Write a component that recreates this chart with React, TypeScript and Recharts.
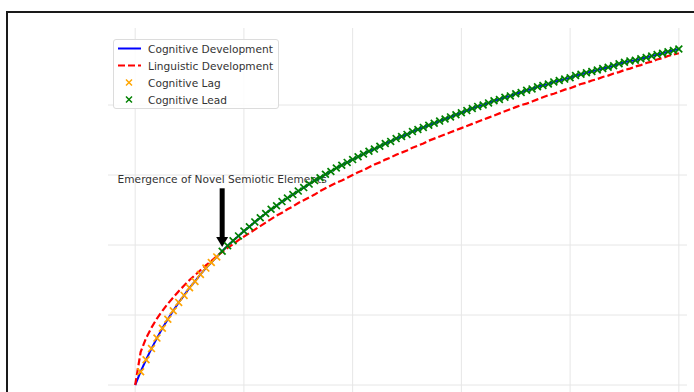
import React from 'react'
import {
  ComposedChart,
  Line,
  XAxis,
  YAxis,
  CartesianGrid,
  ReferenceDot,
  ReferenceLine,
} from 'recharts'

// x grid of the simulation (0 .. 10)
const X_VALUES = [
  0, 0.1, 0.2, 0.3, 0.4, 0.5, 0.6, 0.7, 0.8, 0.9,
  1, 1.1, 1.2, 1.3, 1.4, 1.5, 1.6, 1.7, 1.8, 1.9,
  2, 2.1, 2.2, 2.3, 2.4, 2.5, 2.6, 2.7, 2.8, 2.9,
  3, 3.1, 3.2, 3.3, 3.4, 3.5, 3.6, 3.7, 3.8, 3.9,
  4, 4.1, 4.2, 4.3, 4.4, 4.5, 4.6, 4.7, 4.8, 4.9,
  5, 5.1, 5.2, 5.3, 5.4, 5.5, 5.6, 5.7, 5.8, 5.9,
  6, 6.1, 6.2, 6.3, 6.4, 6.5, 6.6, 6.7, 6.8, 6.9,
  7, 7.1, 7.2, 7.3, 7.4, 7.5, 7.6, 7.7, 7.8, 7.9,
  8, 8.1, 8.2, 8.3, 8.4, 8.5, 8.6, 8.7, 8.8, 8.9,
  9, 9.1, 9.2, 9.3, 9.4, 9.5, 9.6, 9.7, 9.8, 9.9,
  10,
]

const COGNITIVE = [
  0, 0.19, 0.36, 0.52, 0.67, 0.81, 0.94, 1.06, 1.18, 1.28,
  1.39, 1.48, 1.58, 1.67, 1.75, 1.83, 1.91, 1.99, 2.06, 2.13,
  2.2, 2.26, 2.33, 2.39, 2.45, 2.51, 2.56, 2.62, 2.67, 2.72,
  2.77, 2.82, 2.87, 2.92, 2.96, 3.01, 3.05, 3.1, 3.14, 3.18,
  3.22, 3.26, 3.3, 3.34, 3.37, 3.41, 3.45, 3.48, 3.52, 3.55,
  3.58, 3.62, 3.65, 3.68, 3.71, 3.74, 3.77, 3.8, 3.83, 3.86,
  3.89, 3.92, 3.95, 3.98, 4.0, 4.03, 4.06, 4.08, 4.11, 4.13,
  4.16, 4.18, 4.21, 4.23, 4.26, 4.28, 4.3, 4.33, 4.35, 4.37,
  4.39, 4.42, 4.44, 4.46, 4.48, 4.5, 4.52, 4.54, 4.56, 4.59,
  4.61, 4.63, 4.64, 4.66, 4.68, 4.7, 4.72, 4.74, 4.76, 4.78,
  4.8,
]

const LINGUISTIC = [
  0, 0.47, 0.67, 0.82, 0.95, 1.06, 1.16, 1.25, 1.34, 1.42,
  1.5, 1.57, 1.64, 1.71, 1.77, 1.84, 1.9, 1.96, 2.01, 2.07,
  2.12, 2.17, 2.22, 2.27, 2.32, 2.37, 2.42, 2.46, 2.51, 2.55,
  2.6, 2.64, 2.68, 2.72, 2.77, 2.81, 2.85, 2.89, 2.92, 2.96,
  3.0, 3.04, 3.07, 3.11, 3.15, 3.18, 3.22, 3.25, 3.29, 3.32,
  3.35, 3.39, 3.42, 3.45, 3.49, 3.52, 3.55, 3.58, 3.61, 3.64,
  3.67, 3.7, 3.73, 3.76, 3.79, 3.82, 3.85, 3.88, 3.91, 3.94,
  3.97, 4.0, 4.02, 4.05, 4.08, 4.11, 4.14, 4.16, 4.19, 4.22,
  4.24, 4.27, 4.3, 4.32, 4.35, 4.37, 4.4, 4.42, 4.45, 4.47,
  4.5, 4.52, 4.55, 4.57, 4.6, 4.62, 4.65, 4.67, 4.7, 4.72,
  4.74,
]

const X_TICKS = [0, 2, 4, 6, 8, 10]
const Y_TICKS = [0, 1, 2, 3, 4]

// where the annotation points (first "lead" sample)
const EMERGENCE_X = 1.6
const EMERGENCE_TEXT = 'Emergence of Novel Semiotic Elements'

const BLUE = '#0000ff'
const RED = '#ff0000'
const ORANGE = '#ffa500'
const GREEN = '#008000'
const FONT = '"DejaVu Sans", Verdana, sans-serif'

const LEGEND_ITEMS = [
  { label: 'Cognitive Development', kind: 'solid', color: BLUE },
  { label: 'Linguistic Development', kind: 'dashed', color: RED },
  { label: 'Cognitive Lag', kind: 'x', color: ORANGE },
  { label: 'Cognitive Lead', kind: 'x', color: GREEN },
]

const rows = X_VALUES.map((x, i) => {
  const c = COGNITIVE[i]
  const l = LINGUISTIC[i]
  return {
    x,
    cognitive: c,
    linguistic: l,
    lag: c < l ? c : null,
    lead: c > l ? c : null,
  }
})

const emergenceY = COGNITIVE[X_VALUES.indexOf(EMERGENCE_X)]

function xMark(color: string) {
  return (props: any) => {
    const { cx, cy, value, index } = props
    if (value == null || cx == null || cy == null) return <g key={index} />
    const s = 3.4
    return (
      <g key={index}>
        <line x1={cx - s} y1={cy - s} x2={cx + s} y2={cy + s} stroke={color} strokeWidth={1.7} />
        <line x1={cx - s} y1={cy + s} x2={cx + s} y2={cy - s} stroke={color} strokeWidth={1.7} />
      </g>
    )
  }
}

function Arrow(props: any) {
  const { x1, y1, x2, y2 } = props
  const head = 10
  const half = 6
  return (
    <g>
      <line x1={x1} y1={y1} x2={x2} y2={y2 - head + 1} stroke="#000" strokeWidth={5} />
      <polygon points={`${x2 - half},${y2 - head} ${x2 + half},${y2 - head} ${x2},${y2}`} fill="#000" />
    </g>
  )
}

function LegendBox() {
  return (
    <div
      style={{
        position: 'absolute',
        left: 113,
        top: 39,
        width: 166,
        height: 70,
        border: '1px solid #dcdcdc',
        borderRadius: 3,
        background: 'rgba(255,255,255,0.85)',
        fontFamily: FONT,
        fontSize: 10.6,
        color: '#333',
        boxSizing: 'border-box',
      }}
    >
      {LEGEND_ITEMS.map((it) => (
        <div key={it.label} style={{ display: 'flex', alignItems: 'center', height: 17 }}>
          <svg width={34} height={17} style={{ flex: 'none' }}>
            {it.kind === 'solid' && <line x1={4} y1={8.5} x2={27} y2={8.5} stroke={it.color} strokeWidth={2} />}
            {it.kind === 'dashed' && (
              <line x1={4} y1={8.5} x2={27} y2={8.5} stroke={it.color} strokeWidth={2.2} strokeDasharray="7 3" />
            )}
            {it.kind === 'x' && (
              <g>
                <line x1={12} y1={5.5} x2={18} y2={11.5} stroke={it.color} strokeWidth={1.5} />
                <line x1={12} y1={11.5} x2={18} y2={5.5} stroke={it.color} strokeWidth={1.5} />
              </g>
            )}
          </svg>
          <span style={{ whiteSpace: 'nowrap' }}>{it.label}</span>
        </div>
      ))}
    </div>
  )
}

export default function App() {
  return (
    <div style={{ position: 'absolute', left: 0, top: 0, width: 694, height: 392, overflow: 'hidden', background: '#fff' }}>
      <div
        style={{
          position: 'absolute',
          left: 6,
          top: 11,
          width: 720,
          height: 420,
          borderLeft: '2px solid #1a1a1a',
          borderTop: '2px solid #1a1a1a',
        }}
      />
      <div style={{ position: 'absolute', left: 0, top: 0 }}>
        <ComposedChart
          width={700}
          height={420}
          data={rows}
          margin={{ top: 28, right: 13, bottom: 14, left: 108 }}
        >
          <CartesianGrid
            stroke="#e6e6e6"
            strokeWidth={1}
            horizontalValues={Y_TICKS}
            verticalValues={X_TICKS}
          />
          <XAxis
            type="number"
            dataKey="x"
            domain={[-0.5, 10.15]}
            ticks={X_TICKS}
            allowDataOverflow
            hide
          />
          <YAxis type="number" domain={[-0.3, 5.1]} ticks={Y_TICKS} allowDataOverflow hide />
          <ReferenceDot
            x={EMERGENCE_X}
            y={2.95}
            r={0}
            ifOverflow="visible"
            shape={(p: any) => (
              <text
                x={p.cx}
                y={p.cy}
                textAnchor="middle"
                dominantBaseline="central"
                fontFamily={FONT}
                fontSize={10.6}
                fill="#333"
              >
                {EMERGENCE_TEXT}
              </text>
            )}
          />
          <Line
            dataKey="lag"
            stroke="none"
            dot={xMark(ORANGE)}
            activeDot={false}
            legendType="none"
            isAnimationActive={false}
          />
          <Line
            dataKey="lead"
            stroke="none"
            dot={xMark(GREEN)}
            activeDot={false}
            legendType="none"
            isAnimationActive={false}
          />
          <Line
            dataKey="cognitive"
            type="linear"
            stroke={BLUE}
            strokeWidth={2}
            dot={false}
            activeDot={false}
            isAnimationActive={false}
          />
          <Line
            dataKey="linguistic"
            type="linear"
            stroke={RED}
            strokeWidth={2.2}
            strokeDasharray="7 3"
            dot={false}
            activeDot={false}
            isAnimationActive={false}
          />
          <ReferenceLine
            segment={[
              { x: EMERGENCE_X, y: 2.81 },
              { x: EMERGENCE_X, y: emergenceY + 0.06 },
            ]}
            ifOverflow="visible"
            shape={Arrow}
          />
        </ComposedChart>
      </div>
      <LegendBox />
    </div>
  )
}
